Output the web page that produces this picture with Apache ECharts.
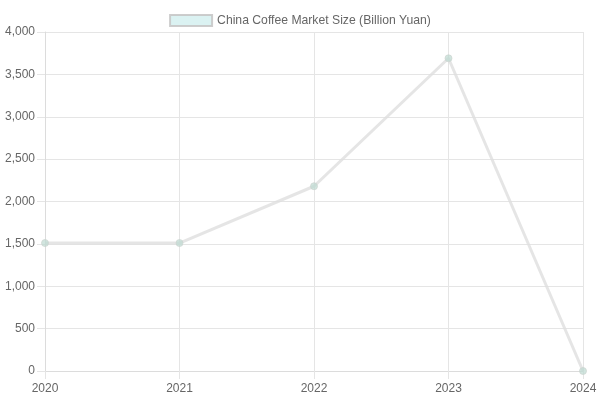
<!DOCTYPE html>
<html><head><meta charset="utf-8">
<script src="https://cdn.jsdelivr.net/npm/echarts@6/dist/echarts.min.js"></script>
<style>html,body{margin:0;padding:0;background:#fff}#c{width:600px;height:400px}</style>
</head><body><div id="c"></div>
<script>
const categories = ['2020','2021','2022','2023','2024'];
const seriesName = 'China Coffee Market Size (Billion Yuan)';
const values = [1510, 1510, 2180, 3690, 0];
const yTicks = {min: 0, max: 4000, interval: 500};

const chart = echarts.init(document.getElementById('c'), null, {renderer: 'canvas'});
const font = 'Liberation Sans, Arial, sans-serif';
chart.setOption({
  animation: false,
  textStyle: {fontFamily: font},
  legend: {
    top: 9, left: 'center',
    itemWidth: 42, itemHeight: 11, itemGap: 10,
    textStyle: {color: '#666', fontSize: 12.2, fontFamily: font},
    data: [{name: seriesName, icon: 'rect', itemStyle: {color: 'rgba(75,192,192,0.2)', borderColor: 'rgba(200,200,200,0.9)', borderWidth: 2}}]
  },
  grid: {left: 45, right: 17, top: 32, bottom: 29, containLabel: false},
  xAxis: {
    type: 'category', data: categories, boundaryGap: false,
    axisLine: {show: true, lineStyle: {color: '#dcdcdc'}},
    axisTick: {show: true, length: 8, alignWithLabel: true, lineStyle: {color: '#e5e5e5'}},
    axisLabel: {color: '#666', fontSize: 12, fontFamily: font, margin: 12},
    splitLine: {show: true, lineStyle: {color: '#e5e5e5'}}
  },
  yAxis: {
    type: 'value', min: yTicks.min, max: yTicks.max, interval: yTicks.interval,
    axisLine: {show: true, lineStyle: {color: '#dcdcdc'}},
    axisTick: {show: true, length: 8, lineStyle: {color: '#e5e5e5'}},
    axisLabel: {color: '#666', fontSize: 12, fontFamily: font, margin: 10,
      formatter: v => v.toLocaleString('en-US')},
    splitLine: {show: true, lineStyle: {color: '#e5e5e5'}}
  },
  series: [{
    name: seriesName, type: 'line', data: values,
    symbol: 'circle', symbolSize: 7,
    lineStyle: {color: 'rgba(222,222,222,0.8)', width: 3},
    itemStyle: {color: 'rgba(190,218,210,0.7)', borderColor: 'rgba(205,212,208,0.7)', borderWidth: 1}
  }]
});
</script></body></html>
